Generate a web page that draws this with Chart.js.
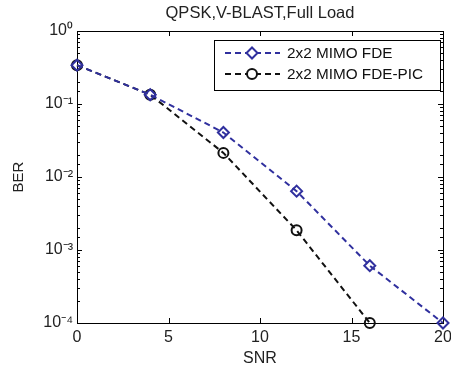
<!DOCTYPE html>
<html>
<head>
<meta charset="utf-8">
<script src="https://cdn.jsdelivr.net/npm/chart.js@4/dist/chart.umd.min.js"></script>
<style>
  html, body { margin: 0; padding: 0; background: #fff; }
  #wrap { width: 451px; height: 369px; }
</style>
</head>
<body>
<div id="wrap"><canvas id="c"></canvas></div>
<script>
// data
const snr = [0, 4, 8, 12, 16, 20];
const berFde = [0.34, 0.134, 0.0407, 0.0064, 0.00061, 0.0001];
const berPic = [0.34, 0.134, 0.0214, 0.00186, 0.0001];
const seriesLabels = ["2x2 MIMO FDE", "2x2 MIMO FDE-PIC"];
const xTickValues = [0, 5, 10, 15, 20];
const yMin = 1e-4, yMax = 1;
const titleText = "QPSK,V-BLAST,Full Load";

const BLUE = "rgb(48,48,158)";
const FONT = "'Liberation Sans', Arial, Helvetica, sans-serif";

const SUP = { "0": "\u2070", "1": "\u00b9", "2": "\u00b2", "3": "\u00b3", "4": "\u2074", "-": "\u207b" };
function powLabel(v) {
    const e = Math.log10(v);
    if (Math.abs(e - Math.round(e)) > 1e-6) return "";
    return "10" + String(Math.round(e)).split("").map(ch => SUP[ch]).join("");
}

function toPoints(ys) {
    return ys.map((y, i) => ({ x: snr[i], y: y }));
}

// frame + inward ticks, matlab style
const framePlugin = {
    id: "frame",
    beforeDatasetsDraw(chart) {
        const ctx = chart.ctx;
        const a = chart.chartArea;
        const xs = chart.scales.x, ys = chart.scales.y;
        ctx.save();
        ctx.strokeStyle = "#000";
        ctx.lineWidth = 1;
        ctx.beginPath();
        ys.ticks.forEach(t => {
            const py = Math.round(ys.getPixelForValue(t.value)) + 0.5;
            const len = powLabel(t.value) ? 5 : 3;
            ctx.moveTo(a.left, py); ctx.lineTo(a.left + len, py);
            ctx.moveTo(a.right, py); ctx.lineTo(a.right - len, py);
        });
        xs.ticks.forEach(t => {
            const px = Math.round(xs.getPixelForValue(t.value)) + 0.5;
            ctx.moveTo(px, a.bottom); ctx.lineTo(px, a.bottom - 5);
            ctx.moveTo(px, a.top); ctx.lineTo(px, a.top + 5);
        });
        ctx.stroke();
        ctx.strokeRect(Math.round(a.left) + 0.5, Math.round(a.top) + 0.5,
            Math.round(a.right - a.left), Math.round(a.bottom - a.top));

        // title centred over the axes box, like matlab
        ctx.fillStyle = "#222";
        ctx.font = "16.5px " + FONT;
        ctx.textAlign = "center";
        ctx.textBaseline = "middle";
        ctx.fillText(titleText, (a.left + a.right) / 2, 13);
        ctx.restore();
    }
};

// legend box inside the plot, top right
const legendPlugin = {
    id: "boxLegend",
    afterDraw(chart) {
        const ctx = chart.ctx;
        const box = { x: 214, y: 40, w: 226, h: 50 };
        ctx.save();
        ctx.fillStyle = "#fff";
        ctx.fillRect(box.x, box.y, box.w, box.h);
        ctx.strokeStyle = "#000";
        ctx.lineWidth = 1;
        ctx.strokeRect(box.x + 0.5, box.y + 0.5, box.w, box.h);
        chart.data.datasets.forEach((ds, i) => {
            const cy = 53 + i * 21;
            ctx.strokeStyle = ds.borderColor;
            ctx.lineWidth = ds.borderWidth;
            ctx.setLineDash(ds.borderDash);
            ctx.beginPath();
            ctx.moveTo(225, cy); ctx.lineTo(280, cy);
            ctx.stroke();
            ctx.setLineDash([]);
            ctx.fillStyle = "#fff";
            Chart.helpers.drawPoint(ctx, {
                pointStyle: ds.pointStyle, radius: ds.pointRadius,
                borderWidth: ds.pointBorderWidth, rotation: 0
            }, 252, cy);
            ctx.fillStyle = "#111";
            ctx.font = "15.3px " + FONT;
            ctx.textBaseline = "middle";
            ctx.textAlign = "left";
            ctx.fillText(ds.label, 287, cy + 1);
        });
        ctx.restore();
    }
};

new Chart(document.getElementById("c"), {
    type: "line",
    data: {
        datasets: [
            {
                label: seriesLabels[0],
                data: toPoints(berFde),
                borderColor: BLUE,
                backgroundColor: "rgba(0,0,0,0)",
                borderWidth: 2,
                borderDash: [6, 4],
                pointStyle: "rectRot",
                pointRadius: 5.5,
                pointBorderWidth: 2,
                pointBorderColor: BLUE,
                pointBackgroundColor: "rgba(0,0,0,0)",
                clip: false
            },
            {
                label: seriesLabels[1],
                data: toPoints(berPic),
                borderColor: "#111",
                backgroundColor: "rgba(0,0,0,0)",
                borderWidth: 2,
                borderDash: [6, 4],
                pointStyle: "circle",
                pointRadius: 5,
                pointBorderWidth: 2,
                pointBorderColor: "#111",
                pointBackgroundColor: "rgba(0,0,0,0)",
                clip: false
            }
        ]
    },
    options: {
        responsive: true,
        maintainAspectRatio: false,
        animation: false,
        layout: { padding: { left: 0, right: 0, top: 31, bottom: 0 } },
        plugins: {
            legend: { display: false },
            tooltip: { enabled: false },
            title: { display: false }
        },
        scales: {
            x: {
                type: "linear",
                min: 0,
                max: 20,
                afterBuildTicks: s => { s.ticks = xTickValues.map(v => ({ value: v })); },
                afterFit: s => { s.height = 46; s.paddingRight = 8; },
                grid: { display: false, drawTicks: false },
                border: { display: false },
                ticks: { color: "#222", padding: 5, font: { family: FONT, size: 16 } },
                title: {
                    display: true, text: "SNR", color: "#222",
                    font: { family: FONT, size: 16 }, padding: { top: 0, bottom: 1 }
                }
            },
            y: {
                type: "logarithmic",
                min: yMin,
                max: yMax,
                afterFit: s => { s.width = 77; s.paddingTop = 0; },
                grid: { display: false, drawTicks: false },
                border: { display: false },
                ticks: {
                    color: "#222", padding: 4, autoSkip: false,
                    font: { family: FONT, size: 16 },
                    callback: v => powLabel(v)
                },
                title: {
                    display: true, text: "BER", color: "#222",
                    font: { family: FONT, size: 15 }, padding: { top: 10, bottom: 0 }
                }
            }
        }
    },
    plugins: [framePlugin, legendPlugin]
});
</script>
</body>
</html>
